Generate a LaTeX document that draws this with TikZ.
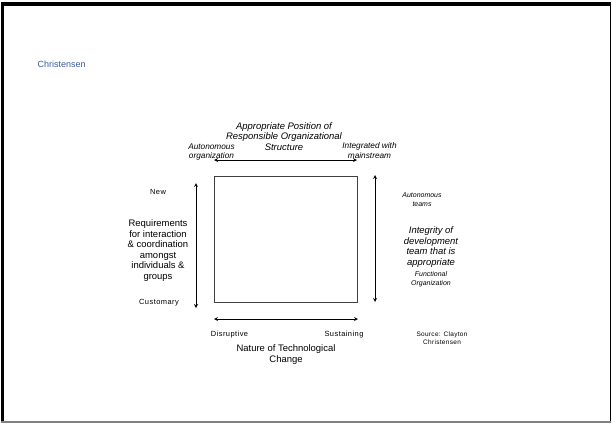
\documentclass[tikz,border=0pt]{standalone}
\usepackage{fontspec}
\setmainfont{Liberation Sans}
\newfontfamily\spacedfont[LetterSpace=6]{Liberation Sans}
\newfontfamily\srcfont[LetterSpace=5]{Liberation Sans}
\usetikzlibrary{arrows, positioning}
\definecolor{slideblue}{RGB}{59,90,154}
\tikzset{
	>=stealth, % small filled arrow heads
	x=1bp, y=-1bp, % work in slide pixels, y downwards
	every node/.style={inner sep=0pt, align=center},
	big/.style={font=\fontsize{9.5}{10.6}\selectfont}, % axis titles
	bigit/.style={font=\fontsize{9.5}{10.6}\selectfont\itshape},
	small/.style={font=\spacedfont\fontsize{7.5}{9}\selectfont}, % axis ends
	smallit/.style={font=\fontsize{7}{9}\selectfont\itshape},
	topit/.style={font=\fontsize{8.3}{9.5}\selectfont\itshape},
	axis/.style={<->, thick},
}
\begin{document}
\begin{tikzpicture}
		\useasboundingbox (0,0) rectangle (612,423);
		% slide frame
		\fill (1,1.5) rectangle (611,5.5);
		\fill (1,1.5) rectangle (4,421);
		\fill (609.8,1.5) rectangle (611,421);
		\fill[gray] (1,420.5) rectangle (611,422.5);

		\node[anchor=west, text=slideblue, font=\fontsize{9}{10}\selectfont] (head) at (37.5,64) {Christensen};

		% the square
		\node[draw=black!75, line width=0.8pt, minimum width=143bp, minimum height=126bp] (box) at (285.5,239) {};

		% top axis
		\coordinate (tl) at (214,160);
		\coordinate (tr) at (357,160);
		\draw[axis] (tl) -- (tr);
		\node[bigit] (pos) at (284,136.5) {Appropriate Position of\\Responsible Organizational\\Structure};
		\node[topit] (auto) at (211.5,152) {Autonomous\\organization};
		\node[topit] (integ) at (369.5,150.5) {Integrated with\\mainstream};

		% left axis
		\coordinate (lt) at (196,183);
		\coordinate (lb) at (196,308);
		\draw[axis] (lt) -- (lb);
		\node[small] (new) at (158,192) {New};
		\node[big] (req) at (158,250.5) {Requirements\\for interaction\\\& coordination\\amongst\\individuals \&\\groups};
		\node[small] (cust) at (159,302.5) {Customary};

		% right axis
		\coordinate (rt) at (375,175);
		\coordinate (rb) at (375,302);
		\draw[axis] (rt) -- (rb);
		\node[smallit] (teams) at (422,199.5) {Autonomous\\teams};
		\node[bigit] (integr) at (431,247) {Integrity of\\development\\team that is\\appropriate};
		\node[smallit] (func) at (431,279) {Functional\\Organization};

		% bottom axis
		\coordinate (bl) at (214,319);
		\coordinate (br) at (358,319);
		\draw[axis] (bl) -- (br);
		\node[small] (disr) at (229.5,334.5) {Disruptive};
		\node[small] (sust) at (344,334.5) {Sustaining};
		\node[big] (nat) at (286,354.5) {Nature of Technological\\Change};
		\node[font=\srcfont\fontsize{6.5}{8}\selectfont] (src) at (442,338) {Source: Clayton\\Christensen};
	\end{tikzpicture}
\end{document}
